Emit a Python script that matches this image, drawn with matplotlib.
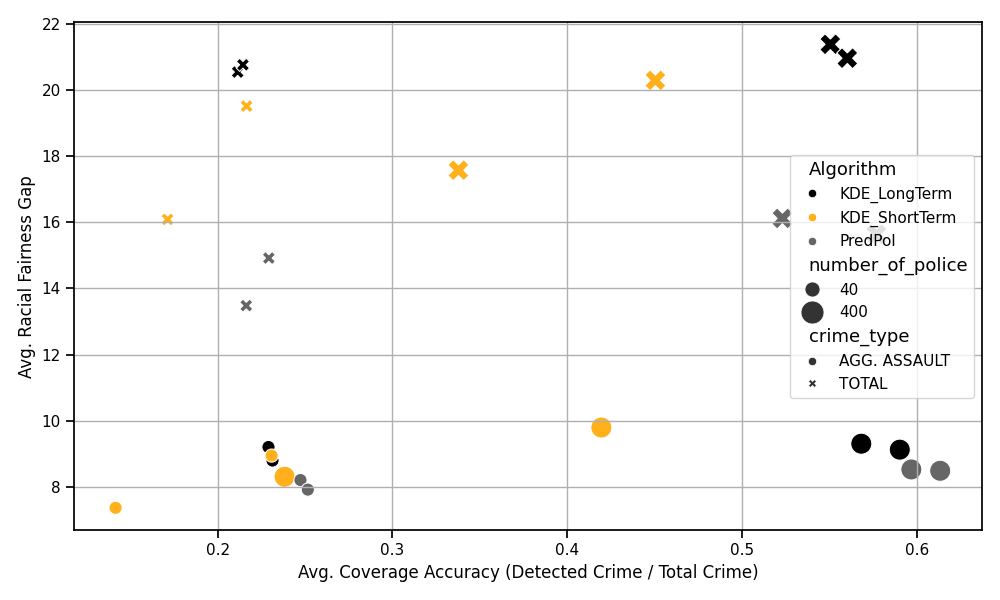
import matplotlib
matplotlib.use("Agg")
import matplotlib.pyplot as plt
from matplotlib.lines import Line2D
from matplotlib.offsetbox import VPacker
import pandas as pd
import seaborn as sns

# one entry per point: algorithm, number of police, crime type, x, y
algorithm = ["KDE_LongTerm"] * 8 + ["KDE_ShortTerm"] * 8 + ["PredPol"] * 8
number_of_police = [40, 40, 400, 400, 40, 40, 400, 400] * 3
crime_type = (["AGG. ASSAULT"] * 4 + ["TOTAL"] * 4) * 3
coverage = [
    0.2291, 0.2314, 0.5680, 0.5900, 0.2115, 0.2145, 0.5503, 0.5600,
    0.1417, 0.2309, 0.2383, 0.4194, 0.2166, 0.1714, 0.4503, 0.3377,
    0.2474, 0.2516, 0.5966, 0.6131, 0.2293, 0.2164, 0.5229, 0.5766,
]
fairness_gap = [
    9.20, 8.79, 9.30, 9.12, 20.55, 20.77, 21.39, 20.97,
    7.36, 8.94, 8.30, 9.79, 19.52, 16.09, 20.30, 17.58,
    8.20, 7.91, 8.52, 8.48, 14.92, 13.48, 16.12, 15.64,
]

df = pd.DataFrame({
    "Algorithm": algorithm,
    "number_of_police": number_of_police,
    "crime_type": crime_type,
    "coverage": coverage,
    "gap": fairness_gap,
})

palette = {"KDE_LongTerm": "black", "KDE_ShortTerm": "#FFB01A", "PredPol": "#666666"}
markers = {"AGG. ASSAULT": "o", "TOTAL": "X"}

sns.set_context("notebook")
plt.figure(figsize=(10, 6))
ax = sns.scatterplot(
    data=df, x="coverage", y="gap",
    hue="Algorithm", size="number_of_police", style="crime_type",
    palette=palette, sizes=(90, 230), markers=markers, legend=False,
)
ax.set_xlabel("Avg. Coverage Accuracy (Detected Crime / Total Crime)")
ax.set_ylabel("Avg. Racial Fairness Gap")
ax.set_xlim(0.118, 0.637)
ax.set_ylim(6.68, 22.06)
plt.grid(True)

# legend built by hand, in the old seaborn look
def entry(marker="", color="#333333", ms=6):
    return Line2D([], [], linestyle="", marker=marker, color=color,
                  markersize=ms, markeredgecolor="white", markeredgewidth=0.5)

subtitles = ["Algorithm", "number_of_police", "crime_type"]
handles, labels = [entry()], ["Algorithm"]
for name, c in palette.items():
    handles.append(entry("o", c))
    labels.append(name)
handles.append(entry())
labels.append("number_of_police")
for n, ms in zip([40, 400], [10.8, 16.5]):
    handles.append(entry("o", "#333333", ms))
    labels.append(str(n))
handles.append(entry())
labels.append("crime_type")
for name, m in markers.items():
    handles.append(entry(m))
    labels.append(name)

leg = ax.legend(handles, labels, loc="center right")
for hpack in leg.findobj(VPacker)[0].get_children():
    draw_area, text_area = hpack.get_children()
    for text in text_area.get_children():
        if text.get_text() in subtitles:
            draw_area.set_width(0)
            text.set_size(13)

plt.tight_layout()
plt.savefig("out.png", dpi=100)
